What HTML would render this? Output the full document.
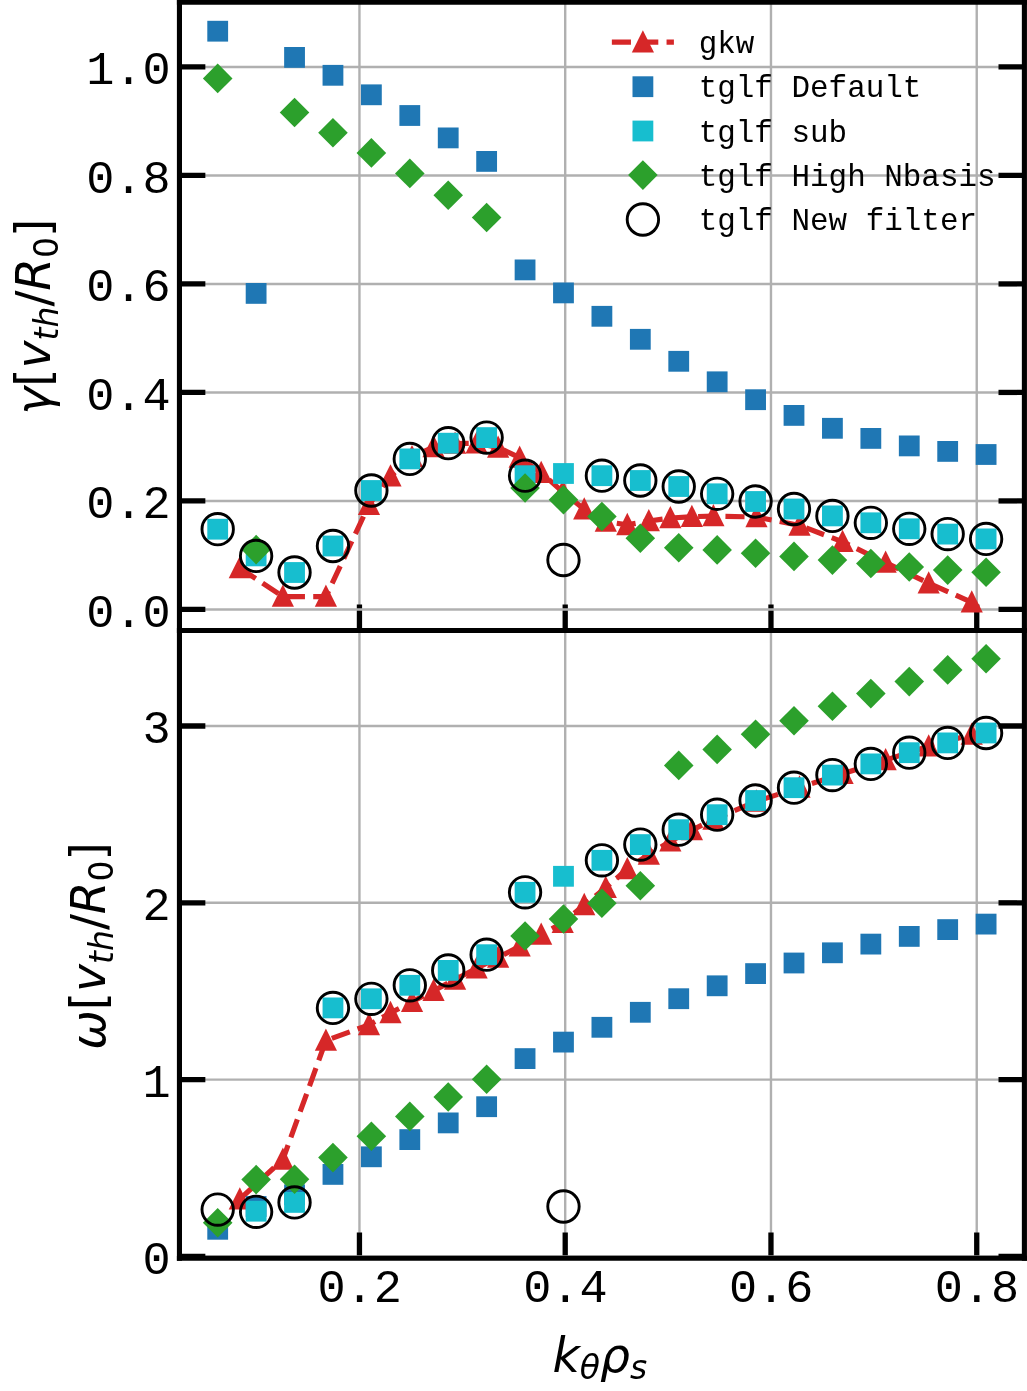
<!DOCTYPE html>
<html lang="en"><head><meta charset="utf-8"><title>gkw vs tglf growth rate and frequency</title>
<style>html,body{margin:0;padding:0;background:#fff}svg{display:block}.tk{font-family:"Liberation Mono","DejaVu Sans Mono",monospace;font-size:46.9px;fill:#000}.lg{font-family:"Liberation Mono","DejaVu Sans Mono",monospace;font-size:30.93px;fill:#000}.ax{font-family:"DejaVu Sans","Liberation Sans",sans-serif;font-size:47.2px;fill:#000}.it{font-style:italic}.sub{font-size:33px}</style></head><body>
<svg width="1027" height="1391" viewBox="0 0 1027 1391">
<rect width="1027" height="1391" fill="#fff"/>
<defs><clipPath id="ct"><rect x="179.45" y="2.2" width="844.95" height="628.3"/></clipPath><clipPath id="cb"><rect x="179.45" y="630.5" width="844.95" height="627.8"/></clipPath></defs>
<g clip-path="url(#ct)">
<g stroke="#b0b0b0" stroke-width="2.4">
<line x1="359.45" y1="2.2" x2="359.45" y2="630.5"/>
<line x1="565.21" y1="2.2" x2="565.21" y2="630.5"/>
<line x1="770.97" y1="2.2" x2="770.97" y2="630.5"/>
<line x1="976.74" y1="2.2" x2="976.74" y2="630.5"/>
</g>
<g stroke="#000" stroke-width="5.3">
<line x1="359.45" y1="604.6" x2="359.45" y2="630.5"/>
<line x1="565.21" y1="604.6" x2="565.21" y2="630.5"/>
<line x1="770.97" y1="604.6" x2="770.97" y2="630.5"/>
<line x1="976.74" y1="604.6" x2="976.74" y2="630.5"/>
</g>
<g stroke="#b0b0b0" stroke-width="2.4">
<line x1="179.45" y1="66.93" x2="1024.4" y2="66.93"/>
<line x1="179.45" y1="175.43" x2="1024.4" y2="175.43"/>
<line x1="179.45" y1="283.93" x2="1024.4" y2="283.93"/>
<line x1="179.45" y1="392.43" x2="1024.4" y2="392.43"/>
<line x1="179.45" y1="500.93" x2="1024.4" y2="500.93"/>
<line x1="179.45" y1="609.43" x2="1024.4" y2="609.43"/>
</g>
<g stroke="#000" stroke-width="5.3">
<line x1="179.45" y1="66.93" x2="205.35" y2="66.93"/>
<line x1="998.5" y1="66.93" x2="1024.4" y2="66.93"/>
<line x1="179.45" y1="175.43" x2="205.35" y2="175.43"/>
<line x1="998.5" y1="175.43" x2="1024.4" y2="175.43"/>
<line x1="179.45" y1="283.93" x2="205.35" y2="283.93"/>
<line x1="998.5" y1="283.93" x2="1024.4" y2="283.93"/>
<line x1="179.45" y1="392.43" x2="205.35" y2="392.43"/>
<line x1="998.5" y1="392.43" x2="1024.4" y2="392.43"/>
<line x1="179.45" y1="500.93" x2="205.35" y2="500.93"/>
<line x1="998.5" y1="500.93" x2="1024.4" y2="500.93"/>
<line x1="179.45" y1="609.43" x2="205.35" y2="609.43"/>
<line x1="998.5" y1="609.43" x2="1024.4" y2="609.43"/>
</g>
<polyline points="239.8,568 282.86,596.6 325.91,596.6 368.97,504.8 390.49,476.2 412.02,457.1 433.55,447 455.07,443.5 476.6,443.2 498.13,447.5 519.66,457.6 541.18,472.8 562.71,491.9 584.24,509.3 605.77,521.6 627.3,524.9 648.82,521 670.35,518 691.88,516.7 713.4,516.1 756.46,517 799.52,525.4 842.57,541.8 885.62,562.6 928.68,583.2 971.73,602.3" fill="none" stroke="#d62728" stroke-width="5.16" stroke-dasharray="19.1 8.25" stroke-linejoin="round"/>
<path d="M239.8 555.95L250.9 578.25L228.7 578.25Z" fill="#d62728"/>
<path d="M282.86 584.55L293.96 606.85L271.75 606.85Z" fill="#d62728"/>
<path d="M325.91 584.55L337.01 606.85L314.81 606.85Z" fill="#d62728"/>
<path d="M368.97 492.75L380.07 515.05L357.87 515.05Z" fill="#d62728"/>
<path d="M390.49 464.15L401.59 486.45L379.39 486.45Z" fill="#d62728"/>
<path d="M412.02 445.05L423.12 467.35L400.92 467.35Z" fill="#d62728"/>
<path d="M433.55 434.95L444.65 457.25L422.45 457.25Z" fill="#d62728"/>
<path d="M455.07 431.45L466.18 453.75L443.97 453.75Z" fill="#d62728"/>
<path d="M476.6 431.15L487.7 453.45L465.5 453.45Z" fill="#d62728"/>
<path d="M498.13 435.45L509.23 457.75L487.03 457.75Z" fill="#d62728"/>
<path d="M519.66 445.55L530.76 467.85L508.56 467.85Z" fill="#d62728"/>
<path d="M541.18 460.75L552.28 483.05L530.08 483.05Z" fill="#d62728"/>
<path d="M562.71 479.85L573.81 502.15L551.61 502.15Z" fill="#d62728"/>
<path d="M584.24 497.25L595.34 519.55L573.14 519.55Z" fill="#d62728"/>
<path d="M605.77 509.55L616.87 531.85L594.67 531.85Z" fill="#d62728"/>
<path d="M627.3 512.85L638.4 535.15L616.2 535.15Z" fill="#d62728"/>
<path d="M648.82 508.95L659.92 531.25L637.72 531.25Z" fill="#d62728"/>
<path d="M670.35 505.95L681.45 528.25L659.25 528.25Z" fill="#d62728"/>
<path d="M691.88 504.65L702.98 526.95L680.78 526.95Z" fill="#d62728"/>
<path d="M713.4 504.05L724.5 526.35L702.3 526.35Z" fill="#d62728"/>
<path d="M756.46 504.95L767.56 527.25L745.36 527.25Z" fill="#d62728"/>
<path d="M799.52 513.35L810.62 535.65L788.42 535.65Z" fill="#d62728"/>
<path d="M842.57 529.75L853.67 552.05L831.47 552.05Z" fill="#d62728"/>
<path d="M885.62 550.55L896.73 572.85L874.52 572.85Z" fill="#d62728"/>
<path d="M928.68 571.15L939.78 593.45L917.58 593.45Z" fill="#d62728"/>
<path d="M971.73 590.25L982.83 612.55L960.63 612.55Z" fill="#d62728"/>
<rect x="207.3" y="20.8" width="20.8" height="20.8" fill="#1f77b4"/>
<rect x="245.72" y="283" width="20.8" height="20.8" fill="#1f77b4"/>
<rect x="284.14" y="47" width="20.8" height="20.8" fill="#1f77b4"/>
<rect x="322.56" y="64.9" width="20.8" height="20.8" fill="#1f77b4"/>
<rect x="360.98" y="84.4" width="20.8" height="20.8" fill="#1f77b4"/>
<rect x="399.4" y="105.1" width="20.8" height="20.8" fill="#1f77b4"/>
<rect x="437.82" y="127.5" width="20.8" height="20.8" fill="#1f77b4"/>
<rect x="476.24" y="151" width="20.8" height="20.8" fill="#1f77b4"/>
<rect x="514.66" y="259.5" width="20.8" height="20.8" fill="#1f77b4"/>
<rect x="553.08" y="282.5" width="20.8" height="20.8" fill="#1f77b4"/>
<rect x="591.5" y="305.9" width="20.8" height="20.8" fill="#1f77b4"/>
<rect x="629.92" y="328.9" width="20.8" height="20.8" fill="#1f77b4"/>
<rect x="668.34" y="350.9" width="20.8" height="20.8" fill="#1f77b4"/>
<rect x="706.76" y="371.4" width="20.8" height="20.8" fill="#1f77b4"/>
<rect x="745.18" y="389.3" width="20.8" height="20.8" fill="#1f77b4"/>
<rect x="783.6" y="405" width="20.8" height="20.8" fill="#1f77b4"/>
<rect x="822.02" y="417.9" width="20.8" height="20.8" fill="#1f77b4"/>
<rect x="860.44" y="428" width="20.8" height="20.8" fill="#1f77b4"/>
<rect x="898.86" y="435.5" width="20.8" height="20.8" fill="#1f77b4"/>
<rect x="937.28" y="441" width="20.8" height="20.8" fill="#1f77b4"/>
<rect x="975.7" y="444.1" width="20.8" height="20.8" fill="#1f77b4"/>
<rect x="207.3" y="518.8" width="20.8" height="20.8" fill="#17becf"/>
<rect x="245.72" y="545.5" width="20.8" height="20.8" fill="#17becf"/>
<rect x="284.14" y="562.1" width="20.8" height="20.8" fill="#17becf"/>
<rect x="322.56" y="535.6" width="20.8" height="20.8" fill="#17becf"/>
<rect x="360.98" y="480.1" width="20.8" height="20.8" fill="#17becf"/>
<rect x="399.4" y="448.5" width="20.8" height="20.8" fill="#17becf"/>
<rect x="437.82" y="432.8" width="20.8" height="20.8" fill="#17becf"/>
<rect x="476.24" y="427.2" width="20.8" height="20.8" fill="#17becf"/>
<rect x="514.66" y="465.3" width="20.8" height="20.8" fill="#17becf"/>
<rect x="553.08" y="463.1" width="20.8" height="20.8" fill="#17becf"/>
<rect x="591.5" y="465.3" width="20.8" height="20.8" fill="#17becf"/>
<rect x="629.92" y="470.1" width="20.8" height="20.8" fill="#17becf"/>
<rect x="668.34" y="476.1" width="20.8" height="20.8" fill="#17becf"/>
<rect x="706.76" y="483.4" width="20.8" height="20.8" fill="#17becf"/>
<rect x="745.18" y="491.1" width="20.8" height="20.8" fill="#17becf"/>
<rect x="783.6" y="498.6" width="20.8" height="20.8" fill="#17becf"/>
<rect x="822.02" y="505.5" width="20.8" height="20.8" fill="#17becf"/>
<rect x="860.44" y="512.4" width="20.8" height="20.8" fill="#17becf"/>
<rect x="898.86" y="518.4" width="20.8" height="20.8" fill="#17becf"/>
<rect x="937.28" y="523.7" width="20.8" height="20.8" fill="#17becf"/>
<rect x="975.7" y="528.5" width="20.8" height="20.8" fill="#17becf"/>
<path d="M217.7 63.6L232.5 78.4L217.7 93.2L202.9 78.4Z" fill="#2ca02c"/>
<path d="M256.12 534.8L270.92 549.6L256.12 564.4L241.32 549.6Z" fill="#2ca02c"/>
<path d="M294.54 97.7L309.34 112.5L294.54 127.3L279.74 112.5Z" fill="#2ca02c"/>
<path d="M332.96 117.9L347.76 132.7L332.96 147.5L318.16 132.7Z" fill="#2ca02c"/>
<path d="M371.38 138.1L386.18 152.9L371.38 167.7L356.58 152.9Z" fill="#2ca02c"/>
<path d="M409.8 158.6L424.6 173.4L409.8 188.2L395 173.4Z" fill="#2ca02c"/>
<path d="M448.22 180.4L463.02 195.2L448.22 210L433.42 195.2Z" fill="#2ca02c"/>
<path d="M486.64 202.7L501.44 217.5L486.64 232.3L471.84 217.5Z" fill="#2ca02c"/>
<path d="M525.06 473.2L539.86 488L525.06 502.8L510.26 488Z" fill="#2ca02c"/>
<path d="M563.48 484.9L578.28 499.7L563.48 514.5L548.68 499.7Z" fill="#2ca02c"/>
<path d="M601.9 501.7L616.7 516.5L601.9 531.3L587.1 516.5Z" fill="#2ca02c"/>
<path d="M640.32 523.4L655.12 538.2L640.32 553L625.52 538.2Z" fill="#2ca02c"/>
<path d="M678.74 532.9L693.54 547.7L678.74 562.5L663.94 547.7Z" fill="#2ca02c"/>
<path d="M717.16 535.1L731.96 549.9L717.16 564.7L702.36 549.9Z" fill="#2ca02c"/>
<path d="M755.58 538.4L770.38 553.2L755.58 568L740.78 553.2Z" fill="#2ca02c"/>
<path d="M794 541.6L808.8 556.4L794 571.2L779.2 556.4Z" fill="#2ca02c"/>
<path d="M832.42 545.3L847.22 560.1L832.42 574.9L817.62 560.1Z" fill="#2ca02c"/>
<path d="M870.84 548.7L885.64 563.5L870.84 578.3L856.04 563.5Z" fill="#2ca02c"/>
<path d="M909.26 552.2L924.06 567L909.26 581.8L894.46 567Z" fill="#2ca02c"/>
<path d="M947.68 555.3L962.48 570.1L947.68 584.9L932.88 570.1Z" fill="#2ca02c"/>
<path d="M986.1 557.5L1000.9 572.3L986.1 587.1L971.3 572.3Z" fill="#2ca02c"/>
<circle cx="217.7" cy="529.2" r="15.7" fill="none" stroke="#000" stroke-width="2.9"/>
<circle cx="256.12" cy="555.9" r="15.7" fill="none" stroke="#000" stroke-width="2.9"/>
<circle cx="294.54" cy="572.5" r="15.7" fill="none" stroke="#000" stroke-width="2.9"/>
<circle cx="332.96" cy="546" r="15.7" fill="none" stroke="#000" stroke-width="2.9"/>
<circle cx="371.38" cy="490.5" r="15.7" fill="none" stroke="#000" stroke-width="2.9"/>
<circle cx="409.8" cy="458.9" r="15.7" fill="none" stroke="#000" stroke-width="2.9"/>
<circle cx="448.22" cy="443.2" r="15.7" fill="none" stroke="#000" stroke-width="2.9"/>
<circle cx="486.64" cy="437.6" r="15.7" fill="none" stroke="#000" stroke-width="2.9"/>
<circle cx="525.06" cy="475.7" r="15.7" fill="none" stroke="#000" stroke-width="2.9"/>
<circle cx="563.48" cy="560" r="15.7" fill="none" stroke="#000" stroke-width="2.9"/>
<circle cx="601.9" cy="475.7" r="15.7" fill="none" stroke="#000" stroke-width="2.9"/>
<circle cx="640.32" cy="480.5" r="15.7" fill="none" stroke="#000" stroke-width="2.9"/>
<circle cx="678.74" cy="486.5" r="15.7" fill="none" stroke="#000" stroke-width="2.9"/>
<circle cx="717.16" cy="493.8" r="15.7" fill="none" stroke="#000" stroke-width="2.9"/>
<circle cx="755.58" cy="501.5" r="15.7" fill="none" stroke="#000" stroke-width="2.9"/>
<circle cx="794" cy="509" r="15.7" fill="none" stroke="#000" stroke-width="2.9"/>
<circle cx="832.42" cy="515.9" r="15.7" fill="none" stroke="#000" stroke-width="2.9"/>
<circle cx="870.84" cy="522.8" r="15.7" fill="none" stroke="#000" stroke-width="2.9"/>
<circle cx="909.26" cy="528.8" r="15.7" fill="none" stroke="#000" stroke-width="2.9"/>
<circle cx="947.68" cy="534.1" r="15.7" fill="none" stroke="#000" stroke-width="2.9"/>
<circle cx="986.1" cy="538.9" r="15.7" fill="none" stroke="#000" stroke-width="2.9"/>
</g>
<g clip-path="url(#cb)">
<g stroke="#b0b0b0" stroke-width="2.4">
<line x1="359.45" y1="630.5" x2="359.45" y2="1258.3"/>
<line x1="565.21" y1="630.5" x2="565.21" y2="1258.3"/>
<line x1="770.97" y1="630.5" x2="770.97" y2="1258.3"/>
<line x1="976.74" y1="630.5" x2="976.74" y2="1258.3"/>
</g>
<g stroke="#000" stroke-width="5.3">
<line x1="359.45" y1="1232.4" x2="359.45" y2="1258.3"/>
<line x1="565.21" y1="1232.4" x2="565.21" y2="1258.3"/>
<line x1="770.97" y1="1232.4" x2="770.97" y2="1258.3"/>
<line x1="976.74" y1="1232.4" x2="976.74" y2="1258.3"/>
</g>
<g stroke="#b0b0b0" stroke-width="2.4">
<line x1="179.45" y1="1256.45" x2="1024.4" y2="1256.45"/>
<line x1="179.45" y1="1079.63" x2="1024.4" y2="1079.63"/>
<line x1="179.45" y1="902.81" x2="1024.4" y2="902.81"/>
<line x1="179.45" y1="725.99" x2="1024.4" y2="725.99"/>
</g>
<g stroke="#000" stroke-width="5.3">
<line x1="179.45" y1="1256.45" x2="205.35" y2="1256.45"/>
<line x1="998.5" y1="1256.45" x2="1024.4" y2="1256.45"/>
<line x1="179.45" y1="1079.63" x2="205.35" y2="1079.63"/>
<line x1="998.5" y1="1079.63" x2="1024.4" y2="1079.63"/>
<line x1="179.45" y1="902.81" x2="205.35" y2="902.81"/>
<line x1="998.5" y1="902.81" x2="1024.4" y2="902.81"/>
<line x1="179.45" y1="725.99" x2="205.35" y2="725.99"/>
<line x1="998.5" y1="725.99" x2="1024.4" y2="725.99"/>
</g>
<polyline points="239.8,1199.2 282.86,1159.6 325.91,1040.5 368.97,1024.9 390.49,1012.9 412.02,1001.7 433.55,990.7 455.07,979.5 476.6,968.3 498.13,957.5 519.66,946.3 541.18,934.5 562.71,922.8 584.24,904.9 605.77,887.7 627.3,869 648.82,854.5 670.35,841.3 691.88,830.1 713.4,819.4 756.46,801.4 799.52,787.4 842.57,773.8 885.62,760 928.68,746.3 971.73,734.6" fill="none" stroke="#d62728" stroke-width="5.16" stroke-dasharray="19.1 8.25" stroke-linejoin="round"/>
<path d="M239.8 1187.15L250.9 1209.45L228.7 1209.45Z" fill="#d62728"/>
<path d="M282.86 1147.55L293.96 1169.85L271.75 1169.85Z" fill="#d62728"/>
<path d="M325.91 1028.45L337.01 1050.75L314.81 1050.75Z" fill="#d62728"/>
<path d="M368.97 1012.85L380.07 1035.15L357.87 1035.15Z" fill="#d62728"/>
<path d="M390.49 1000.85L401.59 1023.15L379.39 1023.15Z" fill="#d62728"/>
<path d="M412.02 989.65L423.12 1011.95L400.92 1011.95Z" fill="#d62728"/>
<path d="M433.55 978.65L444.65 1000.95L422.45 1000.95Z" fill="#d62728"/>
<path d="M455.07 967.45L466.18 989.75L443.97 989.75Z" fill="#d62728"/>
<path d="M476.6 956.25L487.7 978.55L465.5 978.55Z" fill="#d62728"/>
<path d="M498.13 945.45L509.23 967.75L487.03 967.75Z" fill="#d62728"/>
<path d="M519.66 934.25L530.76 956.55L508.56 956.55Z" fill="#d62728"/>
<path d="M541.18 922.45L552.28 944.75L530.08 944.75Z" fill="#d62728"/>
<path d="M562.71 910.75L573.81 933.05L551.61 933.05Z" fill="#d62728"/>
<path d="M584.24 892.85L595.34 915.15L573.14 915.15Z" fill="#d62728"/>
<path d="M605.77 875.65L616.87 897.95L594.67 897.95Z" fill="#d62728"/>
<path d="M627.3 856.95L638.4 879.25L616.2 879.25Z" fill="#d62728"/>
<path d="M648.82 842.45L659.92 864.75L637.72 864.75Z" fill="#d62728"/>
<path d="M670.35 829.25L681.45 851.55L659.25 851.55Z" fill="#d62728"/>
<path d="M691.88 818.05L702.98 840.35L680.78 840.35Z" fill="#d62728"/>
<path d="M713.4 807.35L724.5 829.65L702.3 829.65Z" fill="#d62728"/>
<path d="M756.46 789.35L767.56 811.65L745.36 811.65Z" fill="#d62728"/>
<path d="M799.52 775.35L810.62 797.65L788.42 797.65Z" fill="#d62728"/>
<path d="M842.57 761.75L853.67 784.05L831.47 784.05Z" fill="#d62728"/>
<path d="M885.62 747.95L896.73 770.25L874.52 770.25Z" fill="#d62728"/>
<path d="M928.68 734.25L939.78 756.55L917.58 756.55Z" fill="#d62728"/>
<path d="M971.73 722.55L982.83 744.85L960.63 744.85Z" fill="#d62728"/>
<rect x="207.3" y="1218.9" width="20.8" height="20.8" fill="#1f77b4"/>
<rect x="245.72" y="1196.1" width="20.8" height="20.8" fill="#1f77b4"/>
<rect x="284.14" y="1184.4" width="20.8" height="20.8" fill="#1f77b4"/>
<rect x="322.56" y="1164" width="20.8" height="20.8" fill="#1f77b4"/>
<rect x="360.98" y="1146.4" width="20.8" height="20.8" fill="#1f77b4"/>
<rect x="399.4" y="1129.2" width="20.8" height="20.8" fill="#1f77b4"/>
<rect x="437.82" y="1112.5" width="20.8" height="20.8" fill="#1f77b4"/>
<rect x="476.24" y="1096.3" width="20.8" height="20.8" fill="#1f77b4"/>
<rect x="514.66" y="1048.2" width="20.8" height="20.8" fill="#1f77b4"/>
<rect x="553.08" y="1031.7" width="20.8" height="20.8" fill="#1f77b4"/>
<rect x="591.5" y="1016.9" width="20.8" height="20.8" fill="#1f77b4"/>
<rect x="629.92" y="1001.9" width="20.8" height="20.8" fill="#1f77b4"/>
<rect x="668.34" y="988.3" width="20.8" height="20.8" fill="#1f77b4"/>
<rect x="706.76" y="975.4" width="20.8" height="20.8" fill="#1f77b4"/>
<rect x="745.18" y="963.2" width="20.8" height="20.8" fill="#1f77b4"/>
<rect x="783.6" y="952.6" width="20.8" height="20.8" fill="#1f77b4"/>
<rect x="822.02" y="942.4" width="20.8" height="20.8" fill="#1f77b4"/>
<rect x="860.44" y="933.7" width="20.8" height="20.8" fill="#1f77b4"/>
<rect x="898.86" y="926" width="20.8" height="20.8" fill="#1f77b4"/>
<rect x="937.28" y="919.2" width="20.8" height="20.8" fill="#1f77b4"/>
<rect x="975.7" y="913.7" width="20.8" height="20.8" fill="#1f77b4"/>
<rect x="245.72" y="1200.8" width="20.8" height="20.8" fill="#17becf"/>
<rect x="284.14" y="1192" width="20.8" height="20.8" fill="#17becf"/>
<rect x="322.56" y="997.5" width="20.8" height="20.8" fill="#17becf"/>
<rect x="360.98" y="988.4" width="20.8" height="20.8" fill="#17becf"/>
<rect x="399.4" y="974.9" width="20.8" height="20.8" fill="#17becf"/>
<rect x="437.82" y="960" width="20.8" height="20.8" fill="#17becf"/>
<rect x="476.24" y="944.3" width="20.8" height="20.8" fill="#17becf"/>
<rect x="514.66" y="881.9" width="20.8" height="20.8" fill="#17becf"/>
<rect x="553.08" y="865.9" width="20.8" height="20.8" fill="#17becf"/>
<rect x="591.5" y="849.9" width="20.8" height="20.8" fill="#17becf"/>
<rect x="629.92" y="834.2" width="20.8" height="20.8" fill="#17becf"/>
<rect x="668.34" y="819.3" width="20.8" height="20.8" fill="#17becf"/>
<rect x="706.76" y="804.3" width="20.8" height="20.8" fill="#17becf"/>
<rect x="745.18" y="790.1" width="20.8" height="20.8" fill="#17becf"/>
<rect x="783.6" y="777.3" width="20.8" height="20.8" fill="#17becf"/>
<rect x="822.02" y="764.7" width="20.8" height="20.8" fill="#17becf"/>
<rect x="860.44" y="753.5" width="20.8" height="20.8" fill="#17becf"/>
<rect x="898.86" y="742.3" width="20.8" height="20.8" fill="#17becf"/>
<rect x="937.28" y="732.5" width="20.8" height="20.8" fill="#17becf"/>
<rect x="975.7" y="722.6" width="20.8" height="20.8" fill="#17becf"/>
<path d="M217.7 1207.9L232.5 1222.7L217.7 1237.5L202.9 1222.7Z" fill="#2ca02c"/>
<path d="M256.12 1164.8L270.92 1179.6L256.12 1194.4L241.32 1179.6Z" fill="#2ca02c"/>
<path d="M294.54 1164.4L309.34 1179.2L294.54 1194L279.74 1179.2Z" fill="#2ca02c"/>
<path d="M332.96 1142.8L347.76 1157.6L332.96 1172.4L318.16 1157.6Z" fill="#2ca02c"/>
<path d="M371.38 1121.5L386.18 1136.3L371.38 1151.1L356.58 1136.3Z" fill="#2ca02c"/>
<path d="M409.8 1101.6L424.6 1116.4L409.8 1131.2L395 1116.4Z" fill="#2ca02c"/>
<path d="M448.22 1082.2L463.02 1097L448.22 1111.8L433.42 1097Z" fill="#2ca02c"/>
<path d="M486.64 1064.5L501.44 1079.3L486.64 1094.1L471.84 1079.3Z" fill="#2ca02c"/>
<path d="M525.06 921.2L539.86 936L525.06 950.8L510.26 936Z" fill="#2ca02c"/>
<path d="M563.48 904.2L578.28 919L563.48 933.8L548.68 919Z" fill="#2ca02c"/>
<path d="M601.9 888.4L616.7 903.2L601.9 918L587.1 903.2Z" fill="#2ca02c"/>
<path d="M640.32 871L655.12 885.8L640.32 900.6L625.52 885.8Z" fill="#2ca02c"/>
<path d="M678.74 750.6L693.54 765.4L678.74 780.2L663.94 765.4Z" fill="#2ca02c"/>
<path d="M717.16 734.6L731.96 749.4L717.16 764.2L702.36 749.4Z" fill="#2ca02c"/>
<path d="M755.58 719.4L770.38 734.2L755.58 749L740.78 734.2Z" fill="#2ca02c"/>
<path d="M794 705.9L808.8 720.7L794 735.5L779.2 720.7Z" fill="#2ca02c"/>
<path d="M832.42 691.5L847.22 706.3L832.42 721.1L817.62 706.3Z" fill="#2ca02c"/>
<path d="M870.84 678.8L885.64 693.6L870.84 708.4L856.04 693.6Z" fill="#2ca02c"/>
<path d="M909.26 666.8L924.06 681.6L909.26 696.4L894.46 681.6Z" fill="#2ca02c"/>
<path d="M947.68 655.1L962.48 669.9L947.68 684.7L932.88 669.9Z" fill="#2ca02c"/>
<path d="M986.1 643.9L1000.9 658.7L986.1 673.5L971.3 658.7Z" fill="#2ca02c"/>
<circle cx="217.7" cy="1209.6" r="15.7" fill="none" stroke="#000" stroke-width="2.9"/>
<circle cx="256.12" cy="1211.8" r="15.7" fill="none" stroke="#000" stroke-width="2.9"/>
<circle cx="294.54" cy="1202.4" r="15.7" fill="none" stroke="#000" stroke-width="2.9"/>
<circle cx="332.96" cy="1007.9" r="15.7" fill="none" stroke="#000" stroke-width="2.9"/>
<circle cx="371.38" cy="998.8" r="15.7" fill="none" stroke="#000" stroke-width="2.9"/>
<circle cx="409.8" cy="985.3" r="15.7" fill="none" stroke="#000" stroke-width="2.9"/>
<circle cx="448.22" cy="970.4" r="15.7" fill="none" stroke="#000" stroke-width="2.9"/>
<circle cx="486.64" cy="954.7" r="15.7" fill="none" stroke="#000" stroke-width="2.9"/>
<circle cx="525.06" cy="892.3" r="15.7" fill="none" stroke="#000" stroke-width="2.9"/>
<circle cx="563.48" cy="1206.5" r="15.7" fill="none" stroke="#000" stroke-width="2.9"/>
<circle cx="601.9" cy="860.3" r="15.7" fill="none" stroke="#000" stroke-width="2.9"/>
<circle cx="640.32" cy="844.6" r="15.7" fill="none" stroke="#000" stroke-width="2.9"/>
<circle cx="678.74" cy="829.7" r="15.7" fill="none" stroke="#000" stroke-width="2.9"/>
<circle cx="717.16" cy="814.7" r="15.7" fill="none" stroke="#000" stroke-width="2.9"/>
<circle cx="755.58" cy="800.5" r="15.7" fill="none" stroke="#000" stroke-width="2.9"/>
<circle cx="794" cy="787.7" r="15.7" fill="none" stroke="#000" stroke-width="2.9"/>
<circle cx="832.42" cy="775.1" r="15.7" fill="none" stroke="#000" stroke-width="2.9"/>
<circle cx="870.84" cy="763.9" r="15.7" fill="none" stroke="#000" stroke-width="2.9"/>
<circle cx="909.26" cy="752.7" r="15.7" fill="none" stroke="#000" stroke-width="2.9"/>
<circle cx="947.68" cy="742.9" r="15.7" fill="none" stroke="#000" stroke-width="2.9"/>
<circle cx="986.1" cy="733" r="15.7" fill="none" stroke="#000" stroke-width="2.9"/>
</g>
<g stroke="#000" stroke-width="5.1" fill="none" stroke-linecap="square">
<line x1="179.45" y1="2.2" x2="179.45" y2="1258.3"/>
<line x1="1024.4" y1="2.2" x2="1024.4" y2="1258.3"/>
<line x1="179.45" y1="2.2" x2="1024.4" y2="2.2"/>
<line x1="179.45" y1="630.5" x2="1024.4" y2="630.5"/>
<line x1="179.45" y1="1258.3" x2="1024.4" y2="1258.3"/>
</g>
<g class="tk">
<text x="170.7" y="84.33" text-anchor="end">1.0</text>
<text x="170.7" y="192.83" text-anchor="end">0.8</text>
<text x="170.7" y="301.33" text-anchor="end">0.6</text>
<text x="170.7" y="409.83" text-anchor="end">0.4</text>
<text x="170.7" y="518.33" text-anchor="end">0.2</text>
<text x="170.7" y="626.83" text-anchor="end">0.0</text>
<text x="170.7" y="1273.85" text-anchor="end">0</text>
<text x="170.7" y="1097.03" text-anchor="end">1</text>
<text x="170.7" y="920.21" text-anchor="end">2</text>
<text x="170.7" y="743.39" text-anchor="end">3</text>
<text x="359.65" y="1301.6" text-anchor="middle">0.2</text>
<text x="565.41" y="1301.6" text-anchor="middle">0.4</text>
<text x="771.17" y="1301.6" text-anchor="middle">0.6</text>
<text x="976.94" y="1301.6" text-anchor="middle">0.8</text>
</g>
<text class="ax" text-anchor="middle" transform="translate(50 316.6) rotate(-90)"><tspan class="it">γ</tspan>[<tspan class="it">v</tspan><tspan class="it sub" dy="7.5">th</tspan><tspan dy="-7.5">/</tspan><tspan class="it">R</tspan><tspan class="sub" dy="7.5">0</tspan><tspan dy="-7.5">]</tspan></text>
<text class="ax" text-anchor="middle" transform="translate(105 945.9) rotate(-90)"><tspan class="it">ω</tspan>[<tspan class="it">v</tspan><tspan class="it sub" dy="7.5">th</tspan><tspan dy="-7.5">/</tspan><tspan class="it">R</tspan><tspan class="sub" dy="7.5">0</tspan><tspan dy="-7.5">]</tspan></text>
<text class="ax" text-anchor="middle" x="599.8" y="1371.6"><tspan class="it">k</tspan><tspan class="it sub" dy="7.5">θ</tspan><tspan class="it" dy="-7.5">ρ</tspan><tspan class="it sub" dy="7.5">s</tspan></text>
<line x1="611.85" y1="42.15" x2="673.9" y2="42.15" stroke="#d62728" stroke-width="5.16" stroke-dasharray="19.1 8.25"/>
<path d="M642.9 30.15L654 52.45L631.8 52.45Z" fill="#d62728"/>
<rect x="632.5" y="76.3" width="20.8" height="20.8" fill="#1f77b4"/>
<rect x="632.5" y="120.6" width="20.8" height="20.8" fill="#17becf"/>
<path d="M642.9 160.3L657.7 175.1L642.9 189.9L628.1 175.1Z" fill="#2ca02c"/>
<circle cx="642.9" cy="219.5" r="15.7" fill="none" stroke="#000" stroke-width="2.9"/>
<g class="lg">
<text x="698.7" y="53.2" xml:space="preserve">gkw</text>
<text x="698.7" y="97.4" xml:space="preserve">tglf Default</text>
<text x="698.7" y="141.6" xml:space="preserve">tglf sub</text>
<text x="698.7" y="185.8" xml:space="preserve">tglf High Nbasis</text>
<text x="698.7" y="230.0" xml:space="preserve">tglf New filter</text>
</g>
</svg></body></html>
